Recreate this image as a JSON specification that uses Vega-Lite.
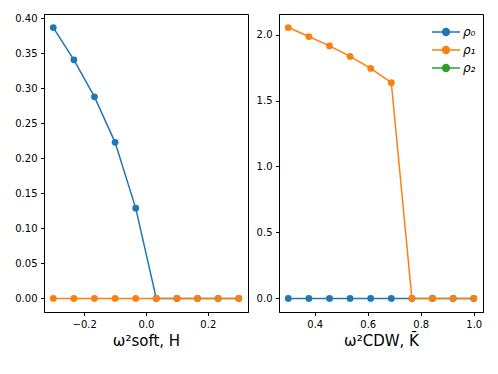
{
  "$schema": "https://vega.github.io/schema/vega-lite/v6.json",
  "padding": {"left": 14, "top": 12, "right": 10, "bottom": 5},
  "autosize": {"type": "pad"},
  "background": "white",
  "config": {
    "font": "DejaVu Sans",
    "view": {"stroke": "black", "strokeWidth": 1},
    "axis": {
      "grid": false,
      "domain": true,
      "domainColor": "black",
      "tickColor": "black",
      "tickSize": 3.5,
      "labelFontSize": 10,
      "labelColor": "black",
      "labelPadding": 3.5,
      "titleFontSize": 15,
      "titleFontWeight": "normal",
      "titleColor": "black"
    },
    "legend": {"labelFont": "DejaVu Sans"}
  },
  "datasets": {
    "left": [
      {"x": -0.3, "rho": 0.387, "series": "ρ₀"},
      {"x": -0.2333, "rho": 0.341, "series": "ρ₀"},
      {"x": -0.1667, "rho": 0.288, "series": "ρ₀"},
      {"x": -0.1, "rho": 0.223, "series": "ρ₀"},
      {"x": -0.0333, "rho": 0.129, "series": "ρ₀"},
      {"x": 0.0333, "rho": 0.0, "series": "ρ₀"},
      {"x": 0.1, "rho": 0.0, "series": "ρ₀"},
      {"x": 0.1667, "rho": 0.0, "series": "ρ₀"},
      {"x": 0.2333, "rho": 0.0, "series": "ρ₀"},
      {"x": 0.3, "rho": 0.0, "series": "ρ₀"},
      {"x": -0.3, "rho": 0.0, "series": "ρ₁"},
      {"x": -0.2333, "rho": 0.0, "series": "ρ₁"},
      {"x": -0.1667, "rho": 0.0, "series": "ρ₁"},
      {"x": -0.1, "rho": 0.0, "series": "ρ₁"},
      {"x": -0.0333, "rho": 0.0, "series": "ρ₁"},
      {"x": 0.0333, "rho": 0.0, "series": "ρ₁"},
      {"x": 0.1, "rho": 0.0, "series": "ρ₁"},
      {"x": 0.1667, "rho": 0.0, "series": "ρ₁"},
      {"x": 0.2333, "rho": 0.0, "series": "ρ₁"},
      {"x": 0.3, "rho": 0.0, "series": "ρ₁"}
    ],
    "right": [
      {"x": 0.3, "rho": 0.0, "series": "ρ₀"},
      {"x": 0.3778, "rho": 0.0, "series": "ρ₀"},
      {"x": 0.4556, "rho": 0.0, "series": "ρ₀"},
      {"x": 0.5333, "rho": 0.0, "series": "ρ₀"},
      {"x": 0.6111, "rho": 0.0, "series": "ρ₀"},
      {"x": 0.6889, "rho": 0.0, "series": "ρ₀"},
      {"x": 0.7667, "rho": 0.0, "series": "ρ₀"},
      {"x": 0.8444, "rho": 0.0, "series": "ρ₀"},
      {"x": 0.9222, "rho": 0.0, "series": "ρ₀"},
      {"x": 1.0, "rho": 0.0, "series": "ρ₀"},
      {"x": 0.3, "rho": 2.053, "series": "ρ₁"},
      {"x": 0.3778, "rho": 1.985, "series": "ρ₁"},
      {"x": 0.4556, "rho": 1.914, "series": "ρ₁"},
      {"x": 0.5333, "rho": 1.834, "series": "ρ₁"},
      {"x": 0.6111, "rho": 1.743, "series": "ρ₁"},
      {"x": 0.6889, "rho": 1.635, "series": "ρ₁"},
      {"x": 0.7667, "rho": 0.0, "series": "ρ₁"},
      {"x": 0.8444, "rho": 0.0, "series": "ρ₁"},
      {"x": 0.9222, "rho": 0.0, "series": "ρ₁"},
      {"x": 1.0, "rho": 0.0, "series": "ρ₁"}
    ]
  },
  "hconcat": [
    {
      "width": 204,
      "height": 298,
      "data": {"name": "left"},
      "mark": {"type": "line", "strokeWidth": 1.5, "clip": true, "point": {"filled": true, "size": 46, "opacity": 1}},
      "encoding": {
        "x": {
          "field": "x", "type": "quantitative",
          "scale": {"domain": [-0.33, 0.33], "nice": false, "zero": false},
          "axis": {"values": [-0.2, 0, 0.2], "format": ".1f", "title": "ω²soft, H"}
        },
        "y": {
          "field": "rho", "type": "quantitative",
          "scale": {"domain": [-0.0194, 0.4064], "nice": false, "zero": false},
          "axis": {"values": [0, 0.05, 0.1, 0.15, 0.2, 0.25, 0.3, 0.35, 0.4], "format": ".2f", "title": null}
        },
        "color": {
          "field": "series", "type": "nominal",
          "scale": {"domain": ["ρ₀", "ρ₁", "ρ₂"], "range": ["#1f77b4", "#ff7f0e", "#2ca02c"]},
          "legend": null
        }
      }
    },
    {
      "width": 204,
      "height": 298,
      "data": {"name": "right"},
      "mark": {"type": "line", "strokeWidth": 1.5, "clip": true, "point": {"filled": true, "size": 46, "opacity": 1}},
      "encoding": {
        "x": {
          "field": "x", "type": "quantitative",
          "scale": {"domain": [0.265, 1.035], "nice": false, "zero": false},
          "axis": {"values": [0.4, 0.6, 0.8, 1.0], "format": ".1f", "title": "ω²CDW, K̄"}
        },
        "y": {
          "field": "rho", "type": "quantitative",
          "scale": {"domain": [-0.1027, 2.1557], "nice": false, "zero": false},
          "axis": {"values": [0, 0.5, 1, 1.5, 2], "format": ".1f", "title": null}
        },
        "color": {
          "field": "series", "type": "nominal",
          "scale": {"domain": ["ρ₀", "ρ₁", "ρ₂"], "range": ["#1f77b4", "#ff7f0e", "#2ca02c"]},
          "legend": {
            "title": null,
            "orient": "top-right",
            "offset": 7,
            "symbolType": "M-1.4,0H1.4M0.34,0A0.34,0.34,0,1,1,-0.34,0A0.34,0.34,0,1,1,0.34,0",
            "symbolSize": 400,
            "symbolStrokeWidth": 1.5,
            "symbolOpacity": 1,
            "labelFontSize": 12,
            "labelFontStyle": "italic",
            "labelOffset": 6,
            "rowPadding": 0
          }
        }
      }
    }
  ],
  "spacing": 6,
  "resolve": {"scale": {"color": "independent"}, "legend": {"color": "independent"}}
}
